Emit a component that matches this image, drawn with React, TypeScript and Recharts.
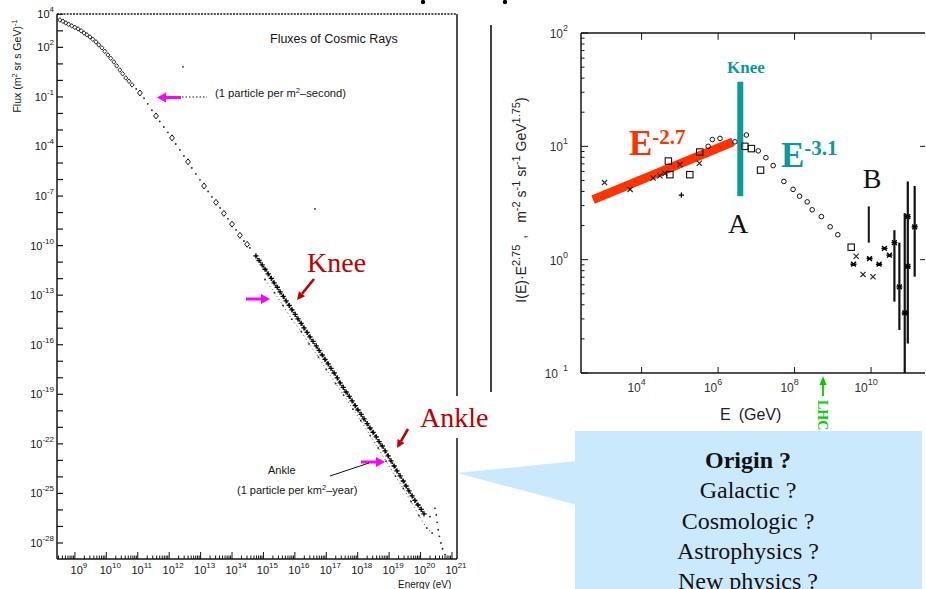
import React from 'react';
import { ScatterChart, Scatter, XAxis, YAxis, ReferenceLine, ErrorBar } from 'recharts';

// Left panel: flux of cosmic rays, stored as log10(E / eV) and log10(flux)
const lowEnergyFlux = [
  { e: 8.52, f: 3.66 }, { e: 8.62, f: 3.58 }, { e: 8.71, f: 3.48 }, { e: 8.8, f: 3.4 },
  { e: 8.9, f: 3.3 }, { e: 9.0, f: 3.21 }, { e: 9.1, f: 3.12 }, { e: 9.2, f: 3.0 },
  { e: 9.29, f: 2.87 }, { e: 9.38, f: 2.76 }, { e: 9.48, f: 2.63 }, { e: 9.57, f: 2.49 },
  { e: 9.67, f: 2.33 }, { e: 9.76, f: 2.15 }, { e: 9.86, f: 1.97 }, { e: 9.95, f: 1.76 },
  { e: 10.05, f: 1.54 }, { e: 10.14, f: 1.34 }, { e: 10.24, f: 1.12 }, { e: 10.33, f: 0.88 },
  { e: 10.43, f: 0.63 }, { e: 10.52, f: 0.4 }, { e: 10.62, f: 0.15 }, { e: 10.72, f: -0.05 },
  { e: 10.82, f: -0.27 },
];

const midEnergyMarkers = [
  { e: 11.07, f: -0.76 }, { e: 11.58, f: -2.15 }, { e: 12.09, f: -3.48 }, { e: 12.6, f: -4.93 },
  { e: 13.11, f: -6.39 }, { e: 13.49, f: -7.38 }, { e: 13.74, f: -8.05 }, { e: 14.0, f: -8.7 },
  { e: 14.25, f: -9.38 }, { e: 14.48, f: -9.92 },
];

const midEnergyDots = [
  { e: 10.95, f: -0.52 }, { e: 11.2, f: -1.08 }, { e: 11.32, f: -1.42 }, { e: 11.45, f: -1.8 },
  { e: 11.7, f: -2.48 }, { e: 11.83, f: -2.82 }, { e: 11.96, f: -3.14 }, { e: 12.21, f: -3.85 },
  { e: 12.34, f: -4.21 }, { e: 12.47, f: -4.57 }, { e: 12.72, f: -5.3 }, { e: 12.85, f: -5.66 },
  { e: 12.98, f: -6.02 }, { e: 13.24, f: -6.72 }, { e: 13.36, f: -7.05 }, { e: 13.62, f: -7.72 },
  { e: 13.87, f: -8.38 }, { e: 14.13, f: -9.05 }, { e: 14.38, f: -9.72 }, { e: 14.57, f: -10.14 },
];

const kneeBandFlux = [
  { e: 14.76, f: -10.62 }, { e: 14.86, f: -10.9 }, { e: 14.96, f: -11.17 }, { e: 15.05, f: -11.43 },
  { e: 15.15, f: -11.71 }, { e: 15.25, f: -11.98 }, { e: 15.34, f: -12.26 }, { e: 15.44, f: -12.52 },
  { e: 15.53, f: -12.8 }, { e: 15.63, f: -13.07 }, { e: 15.72, f: -13.35 }, { e: 15.82, f: -13.62 },
  { e: 15.91, f: -13.89 }, { e: 16.01, f: -14.16 }, { e: 16.1, f: -14.44 }, { e: 16.2, f: -14.71 },
  { e: 16.29, f: -14.98 }, { e: 16.39, f: -15.25 }, { e: 16.48, f: -15.53 }, { e: 16.58, f: -15.8 },
  { e: 16.68, f: -16.07 }, { e: 16.77, f: -16.34 }, { e: 16.87, f: -16.62 }, { e: 16.96, f: -16.89 },
  { e: 17.06, f: -17.16 }, { e: 17.15, f: -17.43 }, { e: 17.25, f: -17.71 }, { e: 17.35, f: -18.01 },
  { e: 17.44, f: -18.31 }, { e: 17.54, f: -18.58 }, { e: 17.63, f: -18.86 }, { e: 17.73, f: -19.13 },
  { e: 17.82, f: -19.4 }, { e: 17.92, f: -19.68 }, { e: 18.01, f: -19.95 }, { e: 18.11, f: -20.22 },
  { e: 18.2, f: -20.49 }, { e: 18.3, f: -20.77 }, { e: 18.39, f: -21.04 }, { e: 18.49, f: -21.31 },
  { e: 18.59, f: -21.58 }, { e: 18.68, f: -21.86 }, { e: 18.78, f: -22.13 }, { e: 18.87, f: -22.43 },
  { e: 18.97, f: -22.73 }, { e: 19.06, f: -23.03 }, { e: 19.16, f: -23.34 }, { e: 19.25, f: -23.64 },
  { e: 19.35, f: -23.94 }, { e: 19.45, f: -24.25 }, { e: 19.54, f: -24.55 }, { e: 19.63, f: -24.85 },
  { e: 19.73, f: -25.15 }, { e: 19.82, f: -25.42 }, { e: 19.92, f: -25.7 }, { e: 20.02, f: -25.97 },
  { e: 20.11, f: -26.24 },
];

const lowerBandFlux = [
  { e: 15.05, f: -12.05 }, { e: 15.35, f: -12.85 }, { e: 15.62, f: -13.62 }, { e: 15.9, f: -14.45 },
  { e: 16.2, f: -15.2 }, { e: 16.45, f: -15.95 }, { e: 16.75, f: -16.75 }, { e: 17.0, f: -17.5 },
  { e: 17.3, f: -18.35 }, { e: 17.55, f: -19.05 }, { e: 17.85, f: -19.9 }, { e: 18.1, f: -20.6 },
  { e: 18.4, f: -21.5 }, { e: 18.65, f: -22.25 }, { e: 18.9, f: -23.05 }, { e: 19.2, f: -23.95 },
  { e: 19.45, f: -24.7 }, { e: 19.7, f: -25.5 }, { e: 19.95, f: -26.35 }, { e: 20.2, f: -27.1 },
  { e: 20.37, f: -27.4 },
];

const tailFlux = [
  { e: 20.3, f: -26.4 }, { e: 20.46, f: -25.9 }, { e: 20.5, f: -26.3 }, { e: 20.53, f: -26.75 },
  { e: 20.56, f: -27.2 }, { e: 20.6, f: -27.6 }, { e: 20.65, f: -28.0 }, { e: 20.7, f: -28.35 },
  { e: 20.78, f: -28.7 },
];

const strayFlux = [{ e: 12.44, f: 0.82 }, { e: 16.64, f: -7.78 }];

const leftYLabels = [4, 2, -1, -4, -7, -10, -13, -16, -19, -22, -25, -28];
const leftXLabels = [9, 10, 11, 12, 13, 14, 15, 16, 17, 18, 19, 20, 21];

// Right panel: I(E)·E^2.75, stored as log10(E / GeV) and log10(value)
const rightCrosses = [
  { e: 3.03, v: 0.68 }, { e: 3.7, v: 0.62 }, { e: 4.3, v: 0.72 }, { e: 4.48, v: 0.74 },
  { e: 4.61, v: 0.76 }, { e: 5.0, v: 0.84 }, { e: 5.51, v: 0.85 }, { e: 9.61, v: 0.03 },
  { e: 9.79, v: -0.13 }, { e: 10.05, v: -0.15 },
];
const rightSquares = [
  { e: 4.7, v: 0.87 }, { e: 4.74, v: 0.75 }, { e: 5.26, v: 0.75 }, { e: 5.52, v: 0.95 },
  { e: 6.7, v: 1.0 }, { e: 6.87, v: 0.98 }, { e: 7.11, v: 0.79 }, { e: 9.48, v: 0.11 },
];
const rightPlus = [{ e: 5.04, v: 0.57 }];
const rightCircles = [
  { e: 5.74, v: 1.0 }, { e: 5.85, v: 1.06 }, { e: 6.05, v: 1.07 }, { e: 6.44, v: 1.04 },
  { e: 6.74, v: 1.1 }, { e: 7.05, v: 0.96 }, { e: 7.25, v: 0.9 }, { e: 7.44, v: 0.83 },
  { e: 7.72, v: 0.69 }, { e: 7.96, v: 0.62 }, { e: 8.13, v: 0.56 }, { e: 8.33, v: 0.51 },
  { e: 8.46, v: 0.44 }, { e: 8.7, v: 0.38 }, { e: 8.93, v: 0.29 }, { e: 9.13, v: 0.22 },
];
const rightStars = [
  { e: 9.54, v: -0.04 }, { e: 9.96, v: 0.01 }, { e: 10.21, v: -0.04 }, { e: 10.35, v: 0.1 },
  { e: 10.48, v: 0.04 }, { e: 10.96, v: -0.06 },
];
const rightWithErrors = [
  { e: 10.61, v: 0.15, err: [0.52, 0.11] },
  { e: 10.74, v: -0.24, err: [0.38, 0.39] },
  { e: 10.88, v: -0.47, err: [0.53, 0.88] },
  { e: 10.96, v: 0.38, err: [1.12, 0.31] },
  { e: 11.14, v: 0.29, err: [0.44, 0.36] },
];

const slopeFit = [{ x: 2.73, y: 0.53 }, { x: 6.39, y: 1.04 }];
const kneeMark = [{ x: 6.58, y: 1.57 }, { x: 6.58, y: 0.56 }];
const bMark = [{ x: 9.94, y: 0.47 }, { x: 9.94, y: 0.15 }];

const rightXLabels = [4, 6, 8, 10];
const rightYLabels = [2, 1, 0, -1];

const LX: [number, number] = [8.43, 21.16];
const LY: [number, number] = [-28.97, 4.02];
const RX: [number, number] = [2.415, 11.41];
const RY: [number, number] = [-1, 2];

const SANS = '"Liberation Sans", Arial, sans-serif';
const SERIF = '"Liberation Serif", "Times New Roman", serif';
const INK = '#151515';

const minors = [2, 3, 4, 5, 6, 7, 8, 9].map((k) => Math.log10(k));
function logTicks(lo: number, hi: number) {
  const out: number[] = [];
  for (let d = Math.floor(lo); d <= Math.ceil(hi); d++) {
    for (const m of [0, ...minors]) {
      const t = d + m;
      if (t >= lo && t <= hi) out.push(t);
    }
  }
  return out;
}
const leftXTicks = logTicks(LX[0], LX[1]);
const leftYTicks: number[] = [];
for (let d = 4; d >= -28; d--) leftYTicks.push(d);
const rightYTicks = logTicks(RY[0], RY[1]);

function LeftYTick({ x, y, payload }: any) {
  const v = payload.value;
  return (
    <g>
      <line x1={x} x2={x + 6} y1={y} y2={y} stroke={INK} strokeWidth={1.2} />
      {leftYLabels.includes(v) && (
        <text x={x - 3} y={y + 4} textAnchor="end" fontFamily={SANS} fontSize={11} fill={INK}>
          10<tspan dy={-6} fontSize={8}>{v}</tspan>
        </text>
      )}
    </g>
  );
}

function LeftXTick({ x, y, payload }: any) {
  const v = payload.value;
  const major = Number.isInteger(v);
  return (
    <g>
      <line x1={x} x2={x} y1={y} y2={y - (major ? 7 : 3.5)} stroke={INK} strokeWidth={1} />
      {major && leftXLabels.includes(v) && (
        <text x={x + 4} y={y + 15} textAnchor="middle" fontFamily={SANS} fontSize={11} fill={INK}>
          10<tspan dy={-6} fontSize={8}>{v}</tspan>
        </text>
      )}
    </g>
  );
}

function RightYTick({ x, y, payload }: any) {
  const v = payload.value;
  const major = Number.isInteger(v);
  return (
    <g>
      <line x1={x} x2={x + (major ? 7 : 3.5)} y1={y} y2={y} stroke={INK} strokeWidth={1} />
      {major && rightYLabels.includes(v) && (
        <text x={x - 13} y={y + 5} textAnchor="end" fontFamily={SANS} fontSize={12} fill="#333">
          10
          <tspan dx={v < 0 ? 5 : 0} dy={-7} fontSize={9}>{v < 0 ? '1' : v}</tspan>
        </text>
      )}
    </g>
  );
}

function RightXTick({ x, y, payload }: any) {
  const v = payload.value;
  return (
    <g>
      <line x1={x} x2={x} y1={y} y2={y - 6} stroke={INK} strokeWidth={1} />
      <text x={x - 5} y={y + 19} textAnchor="middle" fontFamily={SANS} fontSize={12} fill="#333">
        10<tspan dy={-7} fontSize={9}>{v}</tspan>
      </text>
    </g>
  );
}

const openDiamond = (p: any) => (
  <path d={`M${p.cx},${p.cy - 2.3}L${p.cx + 2},${p.cy}L${p.cx},${p.cy + 2.3}L${p.cx - 2},${p.cy}Z`} fill="none" stroke={INK} strokeWidth={0.9} />
);
const bigDiamond = (p: any) => (
  <path d={`M${p.cx},${p.cy - 3}L${p.cx + 2.4},${p.cy}L${p.cx},${p.cy + 3}L${p.cx - 2.4},${p.cy}Z`} fill="none" stroke={INK} strokeWidth={1} />
);
const plusMark = (p: any) => (
  <path d={`M${p.cx - 2.6},${p.cy}h5.2M${p.cx},${p.cy - 2.6}v5.2`} stroke="#000" strokeWidth={1.3} />
);
const smallDot = (p: any) => <circle cx={p.cx} cy={p.cy} r={0.9} fill="#222" />;

const crossMark = (p: any) => (
  <path d={`M${p.cx - 2.6},${p.cy - 2.6}l5.2,5.2M${p.cx - 2.6},${p.cy + 2.6}l5.2,-5.2`} stroke="#222" strokeWidth={1.1} />
);
const squareMark = (p: any) => (
  <rect x={p.cx - 3.2} y={p.cy - 3.2} width={6.4} height={6.4} fill="none" stroke="#111" strokeWidth={1.1} />
);
const circleMark = (p: any) => <circle cx={p.cx} cy={p.cy} r={2.3} fill="none" stroke="#111" strokeWidth={1} />;
const starMark = (p: any) => (
  <path d={`M${p.cx - 3},${p.cy}h6M${p.cx - 2.4},${p.cy - 2.4}l4.8,4.8M${p.cx - 2.4},${p.cy + 2.4}l4.8,-4.8`} stroke="#000" strokeWidth={1.4} />
);

function headPoints(x1: number, y1: number, x2: number, y2: number, len = 8, half = 4) {
  const d = Math.hypot(x2 - x1, y2 - y1);
  const ux = (x2 - x1) / d;
  const uy = (y2 - y1) / d;
  const bx = x2 - ux * len;
  const by = y2 - uy * len;
  return { base: [bx, by], pts: `${x2},${y2} ${bx - uy * half},${by + ux * half} ${bx + uy * half},${by - ux * half}` };
}

function RedArrow({ x1, y1, x2, y2 }: { x1: number; y1: number; x2: number; y2: number }) {
  const h = headPoints(x1, y1, x2, y2);
  return (
    <g>
      <line x1={x1} y1={y1} x2={h.base[0]} y2={h.base[1]} stroke="#c00000" strokeWidth={2.6} />
      <polygon points={h.pts} fill="#c00000" />
    </g>
  );
}

export default function App() {
  return (
    <div style={{ position: 'absolute', left: 0, top: 0, width: 926, height: 589, overflow: 'hidden', background: '#fff' }}>
      <div style={{ position: 'absolute', left: 0, top: 0 }}>
        <ScatterChart width={470} height={589} margin={{ top: 14, right: 13, bottom: 0, left: 0 }}>
          <XAxis type="number" dataKey="e" domain={LX} ticks={leftXTicks} interval={0} allowDataOverflow
            height={30} tickSize={0} tickMargin={0} tickLine={false} axisLine={{ stroke: INK, strokeWidth: 1.5 }}
            tick={(p: any) => <LeftXTick {...p} />} />
          <YAxis type="number" dataKey="f" domain={LY} ticks={leftYTicks} interval={0} allowDataOverflow
            width={57} tickSize={0} tickMargin={0} tickLine={false} axisLine={{ stroke: INK, strokeWidth: 1.5 }}
            tick={(p: any) => <LeftYTick {...p} />} />
          <ReferenceLine y={LY[1]} stroke={INK} strokeWidth={1.3} strokeDasharray="2 1.2" />
          <ReferenceLine x={LX[1]} stroke={INK} strokeWidth={1.5} />
          <Scatter data={lowEnergyFlux} shape={openDiamond} isAnimationActive={false} />
          <Scatter data={midEnergyMarkers} shape={bigDiamond} isAnimationActive={false} />
          <Scatter data={midEnergyDots} shape={smallDot} isAnimationActive={false} />
          <Scatter data={kneeBandFlux} shape={plusMark} line={{ stroke: '#000', strokeWidth: 1.6, strokeDasharray: '1.5 1' }} isAnimationActive={false} />
          <Scatter data={lowerBandFlux} shape={smallDot} line={{ stroke: '#333', strokeWidth: 0.9, strokeDasharray: '1 3' }} isAnimationActive={false} />
          <Scatter data={tailFlux} shape={smallDot} isAnimationActive={false} />
          <Scatter data={strayFlux} shape={smallDot} isAnimationActive={false} />
        </ScatterChart>
      </div>

      <div style={{ position: 'absolute', left: 490, top: 0 }}>
        <ScatterChart width={436} height={430} margin={{ top: 33, right: 1, bottom: 0, left: 0 }}>
          <XAxis type="number" dataKey="e" domain={RX} ticks={rightXLabels} interval={0} allowDataOverflow
            height={57} tickSize={0} tickMargin={0} tickLine={false} axisLine={{ stroke: INK, strokeWidth: 1.5 }}
            tick={(p: any) => <RightXTick {...p} />} />
          <YAxis type="number" dataKey="v" domain={RY} ticks={rightYTicks} interval={0} allowDataOverflow
            width={91} tickSize={0} tickMargin={0} tickLine={false} axisLine={{ stroke: INK, strokeWidth: 1.5 }}
            tick={(p: any) => <RightYTick {...p} />} />
          <ReferenceLine y={RY[1]} stroke={INK} strokeWidth={1.5} />
          {rightXLabels.map((t) => (
            <ReferenceLine key={t} segment={[{ x: t, y: 2 }, { x: t, y: 1.94 }]} stroke={INK} strokeWidth={1} />
          ))}
          {[1, 0].map((t) => (
            <ReferenceLine key={'r' + t} segment={[{ x: 11.41, y: t }, { x: 11.28, y: t }]} stroke={INK} strokeWidth={1} />
          ))}
          <Scatter data={rightCrosses} shape={crossMark} isAnimationActive={false} />
          <Scatter data={rightSquares} shape={squareMark} isAnimationActive={false} />
          <Scatter data={rightPlus} shape={plusMark} isAnimationActive={false} />
          <Scatter data={rightCircles} shape={circleMark} isAnimationActive={false} />
          <Scatter data={rightStars} shape={starMark} isAnimationActive={false} />
          <Scatter data={rightWithErrors} shape={starMark} isAnimationActive={false}>
            <ErrorBar dataKey="err" direction="y" width={0} stroke="#111" strokeWidth={2.2} />
          </Scatter>
          <ReferenceLine segment={slopeFit} stroke="#ff3300" strokeWidth={9} />
          <ReferenceLine segment={kneeMark} stroke="#0a9a9a" strokeWidth={6} />
          <ReferenceLine segment={bMark} stroke="#111" strokeWidth={2} />
        </ScatterChart>
      </div>

      <svg width={926} height={589} style={{ position: 'absolute', left: 0, top: 0, pointerEvents: 'none' }}>
        {/* remnants of the slide title */}
        <circle cx={423} cy={2} r={2.2} fill="#000" />
        <circle cx={505} cy={2} r={2.2} fill="#000" />

        {/* left panel labels */}
        <text transform="translate(21,66) rotate(-90)" textAnchor="middle" fontFamily={SANS} fontSize={10.5} fill={INK}>
          Flux (m<tspan dy={-4} fontSize={7.5}>2</tspan><tspan dy={4}> sr s GeV)</tspan><tspan dy={-4} fontSize={7.5}>-1</tspan>
        </text>
        <text x={398} y={588} fontFamily={SANS} fontSize={10} fill={INK}>Energy (eV)</text>
        <text x={270} y={43} fontFamily={SANS} fontSize={12.5} fill={INK}>Fluxes of Cosmic Rays</text>
        <line x1={182} y1={97} x2={207} y2={97} stroke={INK} strokeWidth={1.2} strokeDasharray="1.5 2" />
        <text x={215} y={97} fontFamily={SANS} fontSize={11.2} fill={INK}>
          (1 particle per m<tspan dy={-4} fontSize={7.5}>2</tspan><tspan dy={4}>–second)</tspan>
        </text>
        <polygon points="157,97.5 166,92.5 166,96 181,96 181,99 166,99 166,102.5" fill="#ff00ff" />

        <text x={307} y={272} fontFamily={SERIF} fontSize={28} fill="#c00000">Knee</text>
        <RedArrow x1={314} y1={279} x2={297} y2={300} />
        <polygon points="270,299 261,294 261,297.5 246,297.5 246,300.5 261,300.5 261,304" fill="#ff00ff" />

        <rect x={418} y={396} width={76} height={42} fill="#fff" />
        <text x={420} y={427} fontFamily={SERIF} fontSize={28} fill="#c00000">Ankle</text>
        <RedArrow x1={408} y1={429} x2={397} y2={448} />
        <polygon points="385,462 376,457 376,460.5 361,460.5 361,463.5 376,463.5 376,467" fill="#ff00ff" />

        <text x={268} y={474} fontFamily={SANS} fontSize={11} fill={INK}>Ankle</text>
        <text x={237} y={494} fontFamily={SANS} fontSize={11} fill={INK}>
          (1 particle per km<tspan dy={-4} fontSize={7.5}>2</tspan><tspan dy={4}>–year)</tspan>
        </text>
        <line x1={330} y1={476} x2={369} y2={463} stroke={INK} strokeWidth={1} />

        <line x1={491} y1={25} x2={491} y2={392} stroke="#000" strokeWidth={1.5} />

        {/* right panel labels */}
        <text transform="translate(526,200) rotate(-90)" textAnchor="middle" fontFamily={SANS} fontSize={14} fill="#222">
          I(E)·E<tspan dy={-6} fontSize={11}>2.75</tspan>
          <tspan dy={6} dx={6}>,</tspan>
          <tspan dx={12}>m</tspan><tspan dy={-6} fontSize={11}>-2</tspan>
          <tspan dy={6}> s</tspan><tspan dy={-6} fontSize={11}>-1</tspan>
          <tspan dy={6}> sr</tspan><tspan dy={-6} fontSize={11}>-1</tspan>
          <tspan dy={6}> GeV</tspan><tspan dy={-6} fontSize={11}>1.75</tspan>
          <tspan dy={6}>)</tspan>
        </text>
        <text x={720} y={420} fontFamily={SANS} fontSize={16} fill="#222">
          E<tspan dx={8}>(GeV)</tspan>
        </text>

        <text x={746} y={73} textAnchor="middle" fontFamily={SERIF} fontWeight="bold" fontSize={17} fill="#0a9a9a">Knee</text>
        <text x={629} y={155} fontFamily={SERIF} fontWeight="bold" fontSize={35} fill="#ff3300">
          E<tspan dy={-11} fontSize={21}>-2.7</tspan>
        </text>
        <text x={781} y={167} fontFamily={SERIF} fontWeight="bold" fontSize={35} fill="#0a9a9a">
          E<tspan dy={-12} fontSize={21}>-3.1</tspan>
        </text>
        <text x={738} y={233} textAnchor="middle" fontFamily={SERIF} fontSize={28} fill="#111">A</text>
        <text x={872} y={188} textAnchor="middle" fontFamily={SERIF} fontSize={28} fill="#111">B</text>

        <line x1={823} y1={396} x2={823} y2={384} stroke="#00cc00" strokeWidth={1.8} />
        <polygon points="823,376 819.5,385 826.5,385" fill="#00cc00" />
        <text transform="translate(818,400) rotate(90)" fontFamily={SERIF} fontWeight="bold" fontSize={14} fill="#00cc00">LHC</text>

        {/* callout */}
        <polygon points="457,473 577,461 577,505" fill="#cbe9fc" />
        <rect x={575} y={431} width={347} height={160} fill="#cbe9fc" />
        <g fontFamily={SERIF} fontSize={24} fill="#111" textAnchor="middle">
          <text x={748} y={468} fontWeight="bold">Origin ?</text>
          <text x={748} y={498}>Galactic ?</text>
          <text x={748} y={529}>Cosmologic ?</text>
          <text x={748} y={559}>Astrophysics ?</text>
          <text x={748} y={589}>New physics ?</text>
        </g>
      </svg>
    </div>
  );
}
